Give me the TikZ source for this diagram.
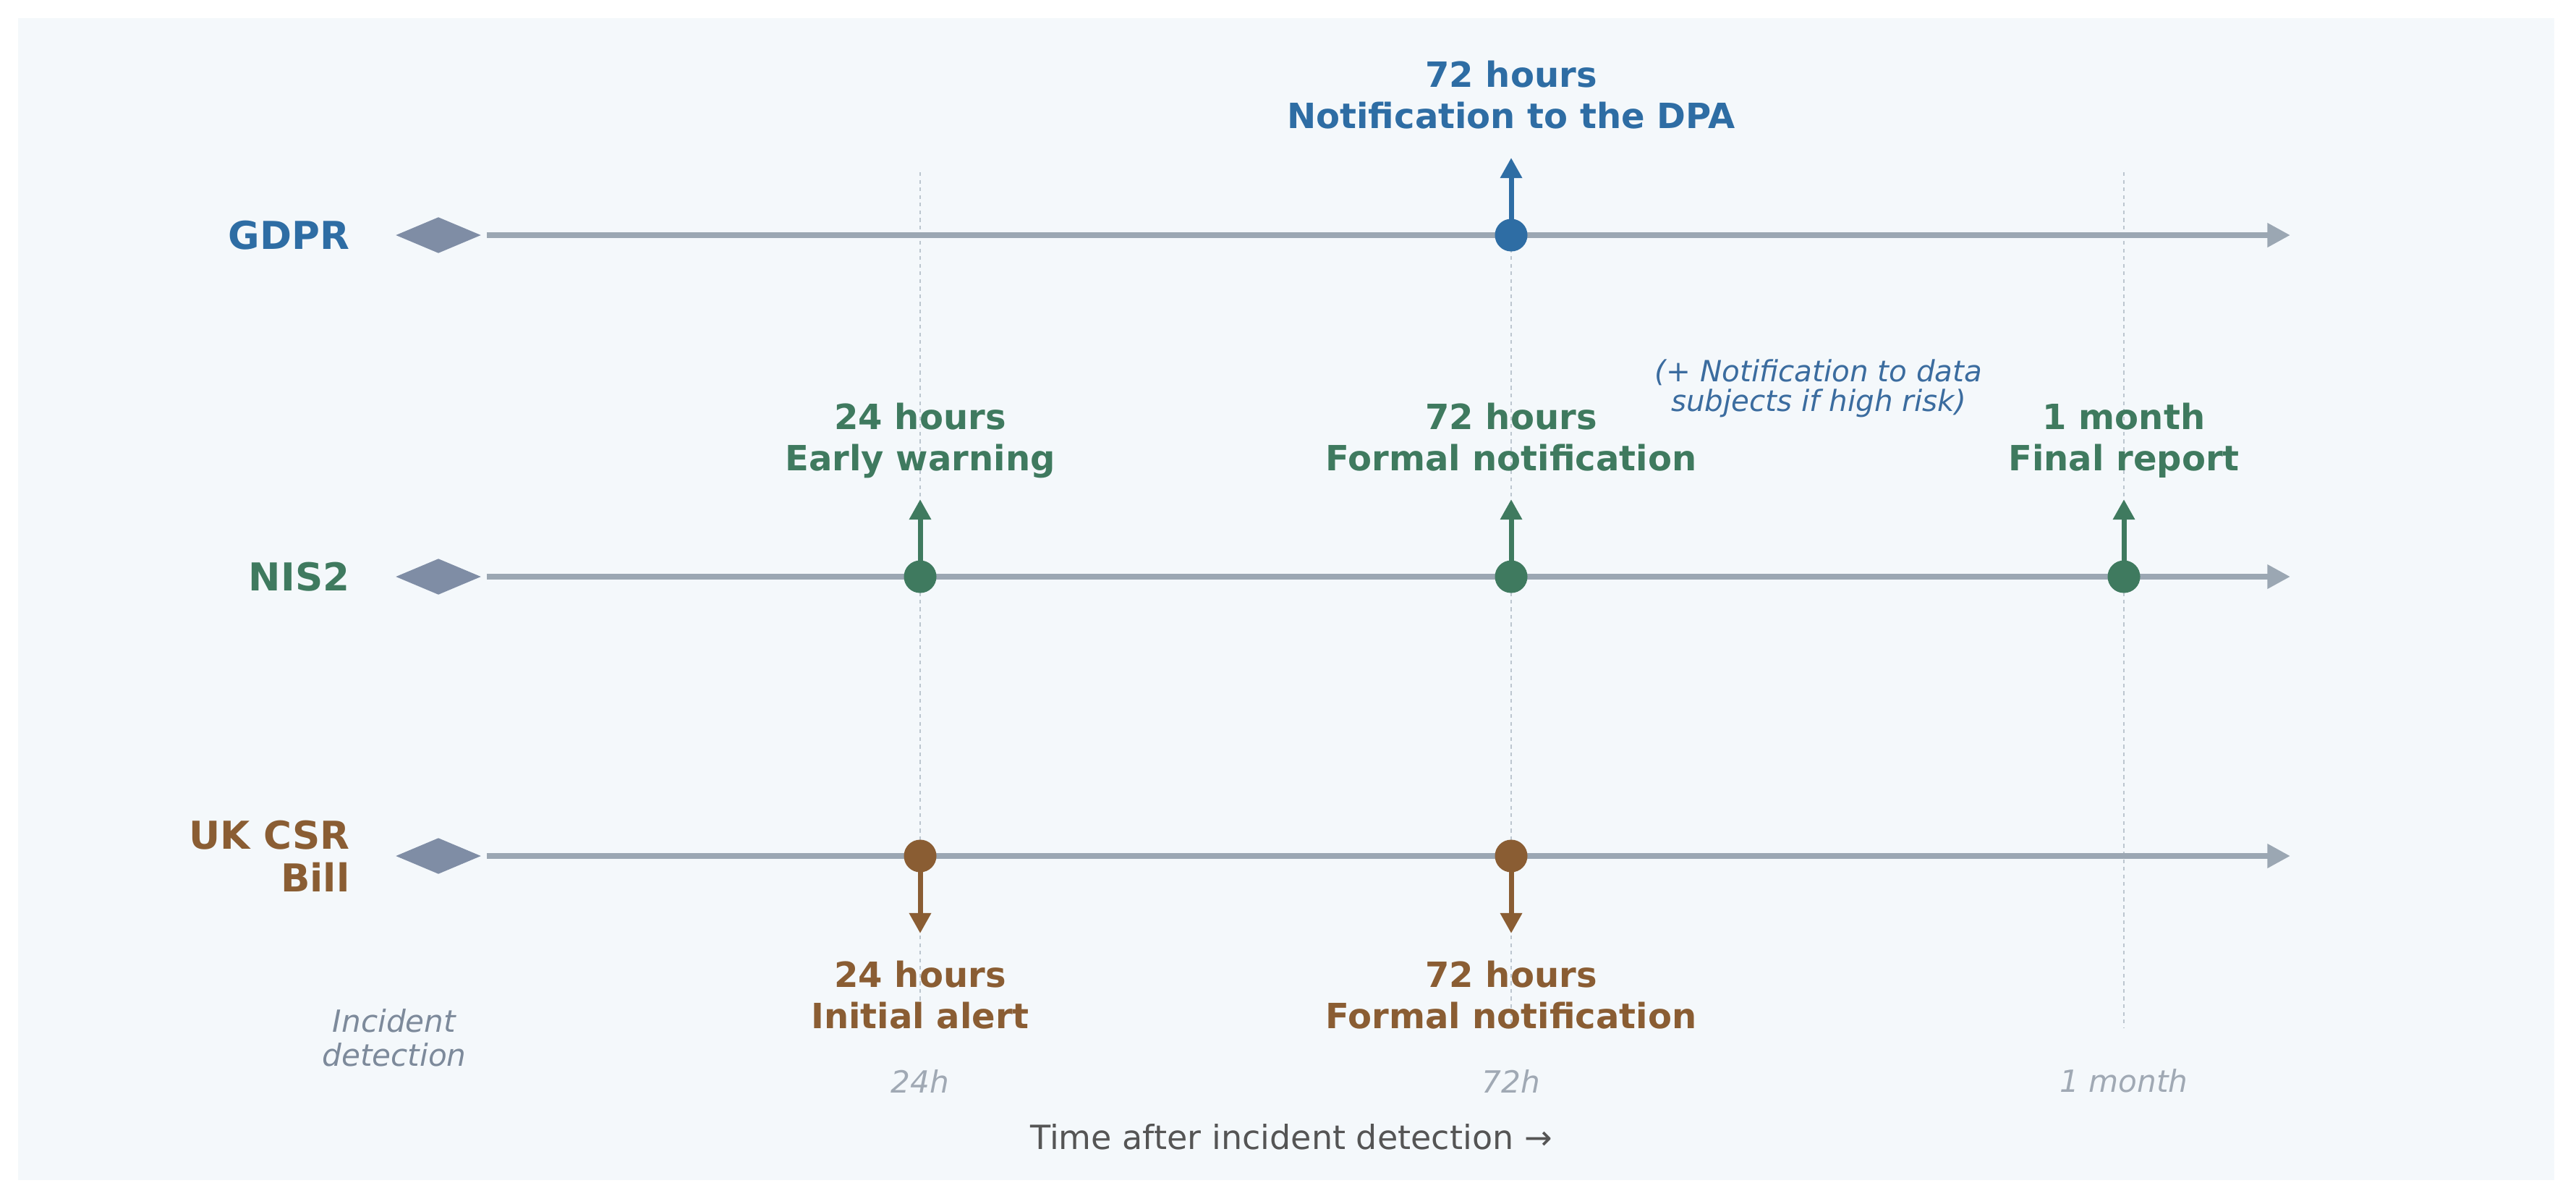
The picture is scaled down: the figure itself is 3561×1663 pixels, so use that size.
\documentclass[tikz,border=0pt]{standalone}
\usepackage{fontspec}
\setmainfont{DejaVu Sans}
\usetikzlibrary{shapes.geometric,arrows.meta}
\definecolor{bgc}{HTML}{F4F8FB}
\definecolor{gdprc}{HTML}{2E6DA4}
\definecolor{nisc}{HTML}{3F7A5F}
\definecolor{ukc}{HTML}{8A5D33}
\definecolor{diac}{HTML}{7F8DA5}
\definecolor{linec}{HTML}{9BA7B3}
\definecolor{guidec}{HTML}{BCC6CF}
\definecolor{tickc}{HTML}{A0A9B4}
\definecolor{detc}{HTML}{7D8A9B}
\definecolor{axisc}{HTML}{555555}
\definecolor{notec}{HTML}{3B6C9F}
\tikzset{
 rowlabel/.style={anchor=east, align=right, inner sep=0pt, font=\fontsize{15.1}{16.8}\selectfont\bfseries, text=#1},
 evlabel/.style={align=center, inner sep=0pt, text depth=0pt, font=\fontsize{13.66}{16.2}\selectfont\bfseries, text=#1},
 startmark/.style={diamond, fill=diac, draw=none, minimum width=1.18cm, minimum height=0.5cm, inner sep=0pt},
 tline/.style={draw=linec, line width=2.3pt, shorten <=2pt, -{Triangle[length=9pt,width=9pt]}},
 evdot/.style={circle, fill=#1, draw=none, minimum size=0.45cm, inner sep=0pt},
 evarrow/.style={draw=#1, line width=2pt, -{Triangle[length=8pt,width=8.2pt]}},
 vguide/.style={draw=guidec, line width=0.6pt, dash pattern=on 1.5pt off 1.5pt},
 ticklabel/.style={inner sep=0pt, font=\fontsize{12}{14}\selectfont\itshape, text=tickc},
}
\begin{document}
\begin{tikzpicture}[x=0.01cm,y=-0.01cm]
\useasboundingbox (0,0) rectangle (3561,1663);
\fill[white] (0,0) rectangle (3561,1663);
\fill[bgc] (25,25) rectangle (3531,1631);

% vertical guides
\coordinate (g24t) at (1272,238); \coordinate (g24b) at (1272,1420);
\coordinate (g72t) at (2089,238); \coordinate (g72b) at (2089,1420);
\coordinate (g1mt) at (2936,238); \coordinate (g1mb) at (2936,1420);
\draw[vguide] (g24t) -- (g24b);
\draw[vguide] (g72t) -- (g72b);
\draw[vguide] (g1mt) -- (g1mb);

% row labels
\node[rowlabel=gdprc] (gdprL) at (484,325) {GDPR};
\node[rowlabel=nisc] (nisL) at (484,797) {NIS2};
\node[rowlabel=ukc] (ukL) at (484,1183) {UK CSR\\Bill};

% start diamonds
\node[startmark] (gdprS) at (606,325) {};
\node[startmark] (nisS) at (606,797) {};
\node[startmark] (ukS) at (606,1183) {};

% timelines
\coordinate (gdprE) at (3166,325);
\coordinate (nisE) at (3166,797);
\coordinate (ukE) at (3166,1183);
\draw[tline] (gdprS.east) -- (gdprE);
\draw[tline] (nisS.east) -- (nisE);
\draw[tline] (ukS.east) -- (ukE);

% GDPR event
\node[evdot=gdprc] (g72) at (2089,325) {};
\coordinate (g72a) at (2089,218);
\draw[evarrow=gdprc] (g72.center) -- (g72a);
\node[evlabel=gdprc] (g72L) at (2089,131) {72 hours\\Notification to the DPA};

% NIS2 events
\node[evdot=nisc] (n24) at (1272,797) {};
\node[evdot=nisc] (n72) at (2089,797) {};
\node[evdot=nisc] (n1m) at (2936,797) {};
\coordinate (n24a) at (1272,690);
\coordinate (n72a) at (2089,690);
\coordinate (n1ma) at (2936,690);
\draw[evarrow=nisc] (n24.center) -- (n24a);
\draw[evarrow=nisc] (n72.center) -- (n72a);
\draw[evarrow=nisc] (n1m.center) -- (n1ma);
\node[evlabel=nisc] (n24L) at (1272,604) {24 hours\\Early warning};
\node[evlabel=nisc] (n72L) at (2089,604) {72 hours\\Formal notification};
\node[evlabel=nisc] (n1mL) at (2936,604) {1 month\\Final report};

% note
\node[align=center, inner sep=0pt, text depth=0pt, font=\fontsize{11.5}{11.7}\selectfont\itshape, text=notec] (note) at (2514,533) {(+ Notification to data\\subjects if high risk)};

% UK events
\node[evdot=ukc] (u24) at (1272,1183) {};
\node[evdot=ukc] (u72) at (2089,1183) {};
\coordinate (u24a) at (1272,1290);
\coordinate (u72a) at (2089,1290);
\draw[evarrow=ukc] (u24.center) -- (u24a);
\draw[evarrow=ukc] (u72.center) -- (u72a);
\node[evlabel=ukc] (u24L) at (1272,1375) {24 hours\\Initial alert};
\node[evlabel=ukc] (u72L) at (2089,1375) {72 hours\\Formal notification};

% ticks
\node[ticklabel] (t24) at (1272,1494) {24h};
\node[ticklabel] (t72) at (2089,1494) {72h};
\node[ticklabel] (t1m) at (2936,1494) {1 month};
\node[align=center, inner sep=0pt, font=\fontsize{12}{13.4}\selectfont\itshape, text=detc] (det) at (545,1434) {Incident\\detection};
\node[inner sep=0pt, font=\fontsize{13.1}{15}\selectfont, text=axisc] (axis) at (1785,1571) {Time after incident detection →};
\end{tikzpicture}
\end{document}
